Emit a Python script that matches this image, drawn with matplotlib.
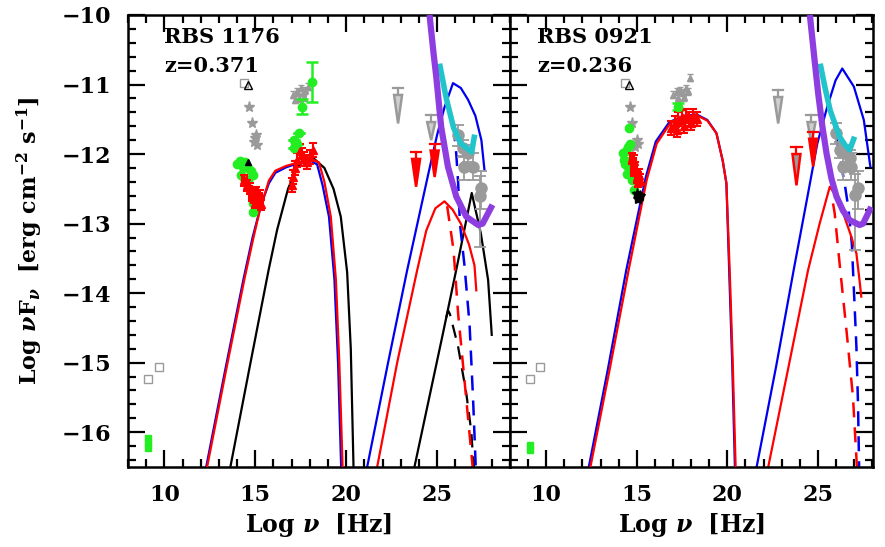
import numpy as np
import matplotlib
matplotlib.use("Agg")
import matplotlib.pyplot as plt
from matplotlib.patches import Polygon
from matplotlib.ticker import MultipleLocator

plt.rcParams['font.family'] = ['DejaVu Serif']
plt.rcParams['font.weight'] = 'bold'
plt.rcParams['mathtext.fontset'] = 'dejavuserif'

RED = '#ff0000'; BLUE = '#0000f0'; BLACK = '#000000'
PURPLE = '#8e3ee0'; CYAN = '#22c4cc'; GREEN = '#22ee22'; GRAY = '#9a9a9a'

# ---------------- RBS 1176 (left panel) ----------------
name_L = 'RBS 1176'; z_L = 'z=0.371'
sync_red_L_x = [12.35, 13.4, 14.4, 14.9, 15.3, 15.55, 15.75, 16.1, 16.7, 17.4, 18.1, 18.5, 18.8, 19.15, 19.43, 19.62, 19.8]
sync_red_L_y = [-16.5, -15.1, -13.8, -13.2, -12.75, -12.55, -12.38, -12.24, -12.17, -12.12, -12.07, -12.12, -12.4, -12.9, -13.8, -15.0, -16.5]
sync_blue_L_x = [12.3, 13.35, 14.35, 14.85, 15.25, 15.5, 15.75, 16.1, 16.7, 17.4, 18.0, 18.4, 18.7, 19.05, 19.35, 19.55, 19.72]
sync_blue_L_y = [-16.5, -15.1, -13.8, -13.2, -12.8, -12.6, -12.42, -12.27, -12.19, -12.13, -12.09, -12.15, -12.45, -12.9, -13.8, -15.0, -16.5]
sync_blk_L_x = [13.63, 14.7, 15.73, 16.2, 16.8, 17.3, 17.8, 18.2, 18.8, 19.3, 19.7, 20.05, 20.25, 20.4]
sync_blk_L_y = [-16.5, -15.05, -13.67, -13.09, -12.5, -12.19, -12.08, -12.06, -12.2, -12.5, -12.9, -13.7, -14.8, -16.5]
ic_blue_L_x = [21.15, 22.3, 23.35, 24.5, 25.0, 25.4, 25.87, 26.3, 26.7, 27.1, 27.43, 27.6]
ic_blue_L_y = [-16.5, -15.0, -13.67, -12.3, -11.72, -11.33, -10.98, -11.05, -11.22, -11.45, -11.8, -12.23]
icd_blue_L_x = [25.9, 26.05, 26.15, 26.25, 26.5, 26.78, 26.97, 27.12]
icd_blue_L_y = [-11.6, -12.0, -12.4, -13.0, -13.6, -14.45, -15.5, -16.5]
ic_red_L_x = [21.7, 22.8, 23.9, 24.4, 24.9, 25.4, 25.85, 26.3, 26.75, 27.05, 27.15]
ic_red_L_y = [-16.5, -15.0, -13.67, -13.1, -12.78, -12.68, -12.8, -13.0, -13.3, -13.6, -13.96]
icd_red_L_x = [25.55, 25.9, 26.15, 26.5, 26.9, 26.95]
icd_red_L_y = [-12.75, -13.38, -14.29, -15.25, -16.36, -16.5]
ic_blk_L_x = [23.75, 25.3, 26.1, 26.9, 27.4, 27.8, 28.0]
ic_blk_L_y = [-16.5, -14.6, -13.6, -12.56, -13.14, -13.81, -14.6]
icd_blk_L_x = [25.5, 25.6, 25.7, 26.15, 26.6, 26.88, 27.0]
icd_blk_L_y = [-14.35, -14.25, -14.3, -14.77, -15.44, -16.0, -16.5]
sens_L_x = [24.58, 24.8, 24.95, 25.22, 25.59, 26.05, 26.6, 27.25, 27.5, 27.7, 28.04]
sens_L_y = [-10.0, -10.55, -10.89, -11.61, -12.18, -12.61, -12.9, -13.02, -13.0, -12.9, -12.73]
cta_L_x = [25.13, 25.5, 25.9, 26.3, 26.7, 26.9, 27.06]
cta_L_y = [-10.7, -11.2, -11.62, -11.85, -11.93, -11.97, -11.72]

radio_L_x = [9.1, 9.1, 9.1]; radio_L_y = [-16.08, -16.15, -16.22]
sq_L_x = [9.1, 9.7, 14.37]; sq_L_y = [-15.23, -15.06, -10.98]
otri_L_x = [14.6]; otri_L_y = [-11.0]
star_L_x = [14.67, 14.8, 15.0, 15.1, 14.95, 15.05]
star_L_y = [-11.33, -11.55, -11.77, -11.87, -11.82, -11.72]
btri_L_x = [14.6]; btri_L_y = [-12.11]
gopt_L_x = [14.0, 14.15, 14.3, 14.45, 14.6, 14.75, 14.2, 14.4, 14.6, 14.85, 14.85, 14.9]
gopt_L_y = [-12.15, -12.1, -12.18, -12.12, -12.2, -12.25, -12.3, -12.35, -12.38, -12.3, -12.84, -12.7]
ropt_L_x = [14.4, 14.55, 14.7, 14.85, 14.95, 15.05, 15.15, 15.25, 15.3, 15.0, 14.8]
ropt_L_y = [-12.38, -12.45, -12.5, -12.55, -12.62, -12.55, -12.65, -12.6, -12.72, -12.7, -12.6]
xg_L_x = [17.1, 17.3, 17.5, 17.6, 17.75, 17.9, 17.4, 17.7, 17.2]
xg_L_y = [-11.15, -11.1, -11.05, -11.12, -11.08, -11.03, -11.2, -11.18, -11.22]
xgr_L_x = [18.1, 17.58, 17.4, 17.12, 17.15, 17.3]
xgr_L_y = [-10.96, -11.32, -11.7, -11.8, -11.92, -11.85]
xgr_L_e = [0.29, 0.11, 0.0, 0.0, 0.0, 0.0]
xr_L_x = [17.0, 17.1, 17.2, 17.3, 17.45, 17.55, 17.7, 17.85, 18.0, 18.17]
xr_L_y = [-12.45, -12.33, -12.2, -12.09, -11.95, -12.02, -12.07, -12.12, -12.04, -11.94]
ulg_L_x = [22.85, 24.67]; ulg_L_top = [-11.05, -11.44]; ulg_L_tip = [-11.56, -11.8]
ulr_L_x = [23.84, 24.86]; ulr_L_top = [-11.97, -11.85]; ulr_L_tip = [-12.47, -12.33]
gam_L_x = [26.15, 26.42, 26.7, 26.5, 26.97, 27.43, 27.34]
gam_L_y = [-11.73, -11.92, -11.99, -12.18, -12.18, -12.49, -12.61]
gam_L_lo = [0.15, 0.12, 0.12, 0.2, 0.2, 0.3, 0.72]
gam_L_hi = [0.15, 0.12, 0.12, 0.15, 0.2, 0.25, 0.3]

# ---------------- RBS 0921 (right panel) ----------------
name_R = 'RBS 0921'; z_R = 'z=0.236'
sync_red_R_x = [12.44, 13.5, 14.55, 15.1, 15.55, 16.1, 16.84, 17.6, 18.3, 18.9, 19.4, 19.75, 19.95, 20.15, 20.3, 20.46]
sync_red_R_y = [-16.5, -15.1, -13.67, -12.95, -12.37, -11.85, -11.56, -11.46, -11.44, -11.52, -11.7, -12.1, -12.42, -13.81, -15.0, -16.5]
sync_blue_R_x = [12.35, 13.4, 14.42, 15.0, 15.5, 16.05, 16.8, 17.6, 18.3, 18.9, 19.4, 19.75, 19.95, 20.12, 20.27, 20.42]
sync_blue_R_y = [-16.5, -15.1, -13.67, -12.95, -12.33, -11.82, -11.54, -11.45, -11.43, -11.51, -11.7, -12.1, -12.42, -13.81, -15.0, -16.5]
ic_blue_R_x = [21.62, 22.7, 23.7, 24.4, 24.97, 25.52, 25.98, 26.35, 26.99, 27.54, 27.9]
ic_blue_R_y = [-16.5, -15.05, -13.62, -12.65, -11.85, -11.32, -10.94, -10.77, -11.03, -11.51, -12.18]
icd_blue_R_x = [25.76, 26.0, 26.2, 26.48, 26.7, 26.88, 27.0, 27.13, 27.22, 27.28]
icd_blue_R_y = [-11.41, -11.7, -12.04, -12.42, -12.8, -13.3, -14.0, -14.77, -15.6, -16.5]
ic_red_R_x = [22.26, 23.35, 24.46, 25.1, 25.66, 26.0, 26.4, 26.8, 27.13, 27.3, 27.4]
ic_red_R_y = [-16.5, -15.1, -13.67, -13.0, -12.47, -12.6, -12.85, -13.15, -13.43, -13.81, -14.05]
icd_red_R_x = [25.84, 25.93, 26.2, 26.58, 26.94, 27.16]
icd_red_R_y = [-12.71, -12.85, -13.57, -14.53, -15.49, -16.5]
sens_R_x = [24.56, 24.8, 25.02, 25.25, 25.48, 25.75, 26.03, 26.4, 26.76, 27.3, 27.5, 27.95]
sens_R_y = [-10.0, -10.6, -11.13, -11.6, -11.99, -12.35, -12.61, -12.82, -12.95, -13.02, -13.0, -12.76]
cta_R_x = [25.13, 25.4, 25.68, 26.2, 26.5, 26.76, 27.03]
cta_R_y = [-10.7, -11.05, -11.37, -11.75, -11.87, -11.94, -11.75]

radio_R_x = [9.09, 9.09]; radio_R_y = [-16.18, -16.26]
sq_R_x = [9.09, 9.68, 14.37]; sq_R_y = [-15.23, -15.06, -10.98]
otri_R_x = [14.55]; otri_R_y = [-11.0]
star_R_x = [14.64, 14.73, 15.0, 14.9, 15.05, 14.55]
star_R_y = [-11.32, -11.56, -11.8, -11.9, -11.85, -12.13]
gopt_R_x = [14.55, 14.5, 14.22, 14.3, 14.4, 14.5, 14.6, 14.73, 14.82, 14.35, 14.65, 14.45]
gopt_R_y = [-11.63, -11.9, -11.99, -12.09, -11.95, -12.19, -12.1, -12.37, -12.52, -12.15, -11.85, -12.28]
ropt_R_x = [14.73, 14.82, 14.9, 15.0, 15.1, 15.19, 14.85, 15.05]
ropt_R_y = [-12.06, -12.23, -12.2, -12.33, -12.3, -12.37, -12.1, -12.4]
bopt_R_x = [15.0, 15.1, 15.2, 15.05]
bopt_R_y = [-12.58, -12.62, -12.6, -12.65]
xg_R_x = [17.0, 17.2, 17.4, 17.55, 17.7, 17.85, 17.3, 17.6, 17.94]
xg_R_y = [-11.15, -11.1, -11.08, -11.12, -11.05, -11.1, -11.2, -11.18, -10.9]
xgr_R_x = [17.3]; xgr_R_y = [-11.32]
xr_R_x = [16.9, 17.1, 17.3, 17.5, 17.7, 17.9, 18.1, 18.3, 17.2, 17.6, 18.0]
xr_R_y = [-11.62, -11.55, -11.5, -11.47, -11.45, -11.5, -11.45, -11.5, -11.65, -11.6, -11.56]
ulg_R_x = [22.81, 24.65]; ulg_R_top = [-11.08, -11.44]; ulg_R_tip = [-11.56, -11.85]
ulo_R_x = [23.82]; ulo_R_top = [-11.9]; ulo_R_tip = [-12.45]
ulr_R_x = [24.74]; ulr_R_top = [-11.68]; ulr_R_tip = [-12.18]
gam_R_x = [26.03, 26.2, 26.58, 26.76, 26.4, 26.85, 27.22, 27.03]
gam_R_y = [-11.7, -11.94, -11.99, -12.06, -12.18, -12.18, -12.49, -12.59]
gam_R_lo = [0.15, 0.12, 0.12, 0.12, 0.2, 0.2, 0.3, 0.79]
gam_R_hi = [0.15, 0.12, 0.12, 0.12, 0.15, 0.2, 0.25, 0.3]

fig = plt.figure(figsize=(8.85, 5.47), dpi=100)
axL = fig.add_axes([0.1446, 0.1463, 0.4316, 0.8263])
axR = fig.add_axes([0.5763, 0.1463, 0.4102, 0.8263])

DASH = (0, (6, 4))
LIGHTGRAY = '#cfcfcf'

def upper_limits(ax, xs, tops, tips, face, edge):
    for x, t, b in zip(xs, tops, tips):
        ax.plot([x - 0.28, x + 0.28], [t, t], color=edge, lw=1.6, zorder=4)
        ax.plot([x, x], [t, t - 0.1], color=edge, lw=1.6, zorder=4)
        poly = Polygon([[x - 0.22, t - 0.1], [x + 0.22, t - 0.1], [x, b]], closed=True,
                       facecolor=face, edgecolor=edge, lw=1.8, zorder=4)
        ax.add_patch(poly)

def panel(ax, d):
    ax.plot(d['sbx'], d['sby'], color=BLUE, lw=1.6, zorder=2)
    ax.plot(d['srx'], d['sry'], color=RED, lw=1.6, zorder=3)
    if 'skx' in d:
        ax.plot(d['skx'], d['sky'], color=BLACK, lw=1.6, zorder=2)
        ax.plot(d['ikx'], d['iky'], color=BLACK, lw=1.6, zorder=2)
        ax.plot(d['ikdx'], d['ikdy'], color=BLACK, lw=1.6, ls=DASH, zorder=2)
    ax.plot(d['ibx'], d['iby'], color=BLUE, lw=1.6, zorder=2)
    ax.plot(d['ibdx'], d['ibdy'], color=BLUE, lw=1.8, ls=DASH, zorder=2)
    ax.plot(d['irx'], d['iry'], color=RED, lw=1.6, zorder=2)
    ax.plot(d['irdx'], d['irdy'], color=RED, lw=1.8, ls=DASH, zorder=2)
    # data
    ax.plot(d['rax'], d['ray'], 's', color=GREEN, ms=5, zorder=5)
    ax.plot(d['sqx'], d['sqy'], 's', mfc='none', mec=GRAY, ms=6, mew=1.0, zorder=5)
    ax.plot(d['otx'], d['oty'], '^', mfc='none', mec=BLACK, ms=6, mew=1.0, zorder=5)
    ax.plot(d['stx'], d['sty'], '*', color=GRAY, ms=8, zorder=5)
    ax.plot(d['gox'], d['goy'], 'o', color=GREEN, ms=6, zorder=5)
    ax.errorbar(d['rox'], d['roy'], yerr=0.08, xerr=0.12, fmt='^', color=RED, ms=6,
                capsize=3, elinewidth=1.5, capthick=1.5, zorder=6)
    ax.errorbar(d['xgx'], d['xgy'], yerr=0.05, fmt='^', color=GRAY, ms=5,
                capsize=2, elinewidth=1, zorder=5)
    ax.errorbar(d['xgrx'], d['xgry'], yerr=d['xgre'], fmt='o', color=GREEN, ms=6,
                capsize=4, elinewidth=1.8, capthick=1.8, zorder=6)
    ax.errorbar(d['xrx'], d['xry'], yerr=0.1, fmt='^', color=RED, ms=6,
                capsize=3, elinewidth=1.5, capthick=1.5, zorder=6)
    if 'box' in d:
        ax.errorbar(d['box'], d['boy'], yerr=0.04, xerr=0.15, fmt='*', color=BLACK, ms=8,
                    capsize=2, elinewidth=1.5, zorder=6)
    if 'btx' in d:
        ax.plot(d['btx'], d['bty'], '^', color=BLACK, ms=5, zorder=7)
    ax.errorbar(d['gmx'], d['gmy'], yerr=[d['gml'], d['gmh']], fmt='o', color=GRAY, ms=8,
                capsize=4, elinewidth=1.3, capthick=1.3, zorder=5)
    for (xs, ts, bs, face, edge) in d['uls']:
        upper_limits(ax, xs, ts, bs, face, edge)
    ax.plot(d['cx'], d['cy'], color=CYAN, lw=4, solid_capstyle='butt', zorder=7)
    ax.plot(d['px'], d['py'], color=PURPLE, lw=4.5, solid_capstyle='butt', zorder=8)
    ax.text(d['tx'], -10.32, d['name'], fontsize=15, fontweight='bold', ha='left', va='center')
    ax.text(d['tx'], -10.73, d['z'], fontsize=15, fontweight='bold', ha='left', va='center')

dL = dict(sbx=sync_blue_L_x, sby=sync_blue_L_y, srx=sync_red_L_x, sry=sync_red_L_y,
          skx=sync_blk_L_x, sky=sync_blk_L_y, ikx=ic_blk_L_x, iky=ic_blk_L_y,
          ikdx=icd_blk_L_x, ikdy=icd_blk_L_y,
          ibx=ic_blue_L_x, iby=ic_blue_L_y, ibdx=icd_blue_L_x, ibdy=icd_blue_L_y,
          irx=ic_red_L_x, iry=ic_red_L_y, irdx=icd_red_L_x, irdy=icd_red_L_y,
          rax=radio_L_x, ray=radio_L_y, sqx=sq_L_x, sqy=sq_L_y, otx=otri_L_x, oty=otri_L_y,
          stx=star_L_x, sty=star_L_y, gox=gopt_L_x, goy=gopt_L_y, rox=ropt_L_x, roy=ropt_L_y,
          xgx=xg_L_x, xgy=xg_L_y, xgrx=xgr_L_x, xgry=xgr_L_y, xgre=xgr_L_e,
          xrx=xr_L_x, xry=xr_L_y, btx=btri_L_x, bty=btri_L_y,
          gmx=gam_L_x, gmy=gam_L_y, gml=gam_L_lo, gmh=gam_L_hi,
          uls=[(ulg_L_x, ulg_L_top, ulg_L_tip, LIGHTGRAY, GRAY),
               (ulr_L_x, ulr_L_top, ulr_L_tip, RED, RED)],
          cx=cta_L_x, cy=cta_L_y, px=sens_L_x, py=sens_L_y,
          tx=10.0, name=name_L, z=z_L)
dR = dict(sbx=sync_blue_R_x, sby=sync_blue_R_y, srx=sync_red_R_x, sry=sync_red_R_y,
          ibx=ic_blue_R_x, iby=ic_blue_R_y, ibdx=icd_blue_R_x, ibdy=icd_blue_R_y,
          irx=ic_red_R_x, iry=ic_red_R_y, irdx=icd_red_R_x, irdy=icd_red_R_y,
          rax=radio_R_x, ray=radio_R_y, sqx=sq_R_x, sqy=sq_R_y, otx=otri_R_x, oty=otri_R_y,
          stx=star_R_x, sty=star_R_y, gox=gopt_R_x, goy=gopt_R_y, rox=ropt_R_x, roy=ropt_R_y,
          xgx=xg_R_x, xgy=xg_R_y, xgrx=xgr_R_x, xgry=xgr_R_y, xgre=[0.05],
          xrx=xr_R_x, xry=xr_R_y, box=bopt_R_x, boy=bopt_R_y,
          gmx=gam_R_x, gmy=gam_R_y, gml=gam_R_lo, gmh=gam_R_hi,
          uls=[(ulg_R_x, ulg_R_top, ulg_R_tip, LIGHTGRAY, GRAY),
               (ulo_R_x, ulo_R_top, ulo_R_tip, GRAY, RED),
               (ulr_R_x, ulr_R_top, ulr_R_tip, RED, RED)],
          cx=cta_R_x, cy=cta_R_y, px=sens_R_x, py=sens_R_y,
          tx=9.5, name=name_R, z=z_R)

panel(axL, dL)
panel(axR, dR)

for ax, xmax in ((axL, 29.0), (axR, 28.05)):
    ax.set_xlim(8, xmax)
    ax.set_ylim(-16.5, -10)
    ax.xaxis.set_major_locator(MultipleLocator(5))
    ax.xaxis.set_minor_locator(MultipleLocator(1))
    ax.yaxis.set_major_locator(MultipleLocator(1))
    ax.yaxis.set_minor_locator(MultipleLocator(0.2))
    ax.tick_params(which='both', direction='in', top=True, right=True, width=1.6)
    ax.tick_params(which='major', length=12, labelsize=16, pad=12)
    ax.tick_params(which='minor', length=6)
    for s in ax.spines.values():
        s.set_linewidth(1.8)
    for lab in ax.get_xticklabels() + ax.get_yticklabels():
        lab.set_fontweight('bold')
    ax.set_xlabel(r'Log $\nu$  [Hz]', fontsize=17, fontweight='bold', labelpad=4)

axR.tick_params(axis='y', labelleft=False)
axL.set_ylabel(r'Log $\nu$F$_\nu$  [erg cm$^{-2}$ s$^{-1}$]', fontsize=16,
               fontweight='bold', labelpad=12)

fig.savefig('out.png', dpi=100)
